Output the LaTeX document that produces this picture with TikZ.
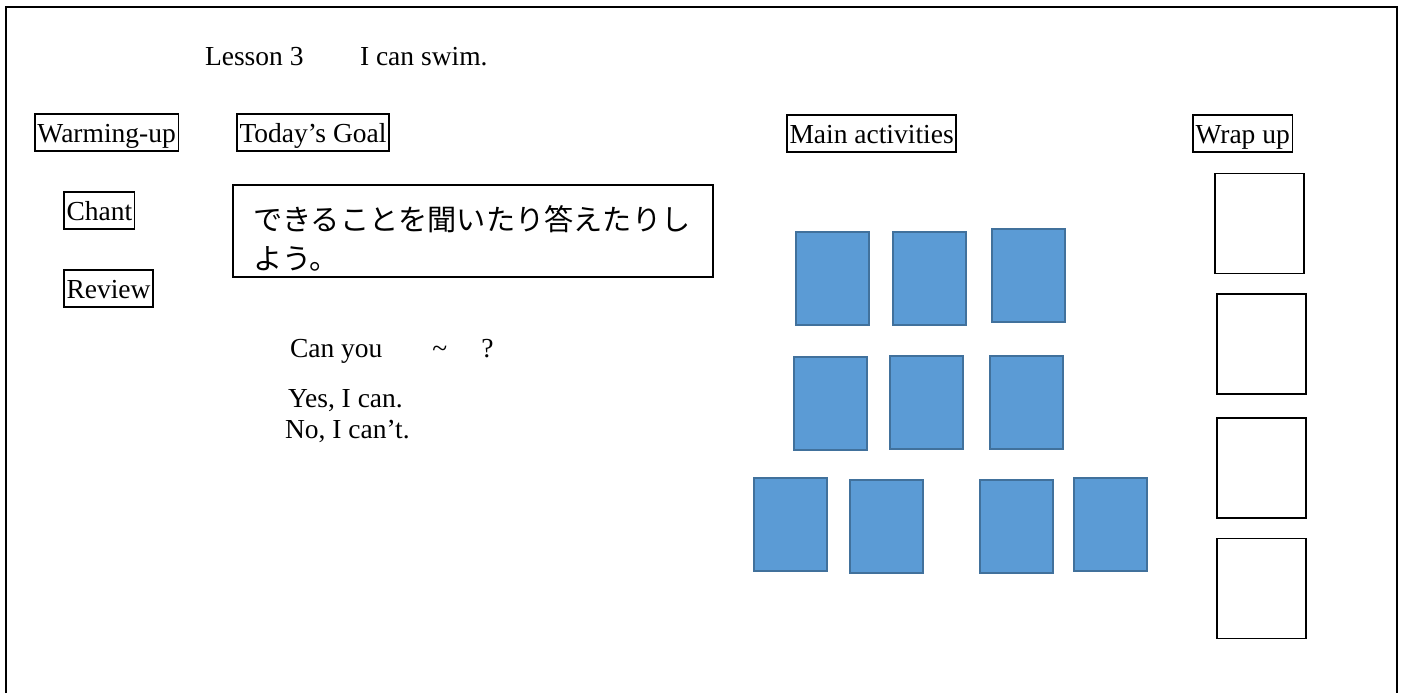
\documentclass[tikz,border=0pt]{standalone}
\usepackage{fontspec}
\setmainfont{Liberation Serif}
\newfontfamily\jpfont{Noto Sans CJK JP}
\definecolor{actblue}{HTML}{5B9BD5}
\definecolor{actline}{HTML}{41719C}

\begin{document}
\begin{tikzpicture}[x=0.5pt, y=-0.5pt, outer sep=0pt, font=\fontsize{13.75}{16}\selectfont,
  plain/.style={inner sep=0pt, anchor=base west},
  tagbox/.style={draw, line width=0.8pt, inner xsep=1.25pt, inner ysep=0pt,
    text height=14pt, text depth=4.5pt, anchor=north west},
  goalbox/.style={draw, line width=0.8pt, anchor=north west, minimum width=240pt,
    inner ysep=0pt, text height=22.5pt, text depth=23.5pt, text width=220pt,
    inner xsep=10pt, align=left, font=\jpfont\fontsize{14.6}{19.5}\selectfont},
  actbox/.style={draw=actline, fill=actblue, line width=1pt, inner sep=0pt,
    minimum width=36.5pt, minimum height=46.5pt},
  wrapbox/.style={draw, line width=0.7pt, inner sep=0pt,
    minimum width=44.5pt, minimum height=50pt}]

\useasboundingbox (0,0) rectangle (1405,693);
\draw [line width=1.2pt] (6,693) -- (6,7) -- (1397,7) -- (1397,693);

\node [plain] at (205,65) (LESSON) {Lesson 3};
\node [plain] at (360,65) (TITLE) {I can swim.};

\node [tagbox] at (35,114) (WARM_UP) {Warming-up};
\node [tagbox] at (237,114) (GOAL) {Today’s Goal};
\node [tagbox] at (787,115) (MAIN) {Main activities};
\node [tagbox] at (1193,115) (WRAP) {Wrap up};
\node [tagbox] at (64,192) (CHANT) {Chant};
\node [tagbox] at (64,270) (REVIEW) {Review};

\node [goalbox] at (233,185) (GOAL_TEXT) {できることを聞いたり答えたりし\\よう。};

\node [plain] at (290,357) (ASK) {Can you\hspace*{25pt}\textasciitilde\hspace*{17pt}?};
\node [plain] at (288,407) (YES) {Yes, I can.};
\node [plain] at (285,438) (NO) {No, I can’t.};

\node [actbox] at (832.5,278) (ACT_A1) {};
\node [actbox] at (929,278) (ACT_A2) {};
\node [actbox] at (1028.5,275.5) (ACT_A3) {};
\node [actbox] at (830.5,403.5) (ACT_B1) {};
\node [actbox] at (926.5,402) (ACT_B2) {};
\node [actbox] at (1026.5,402) (ACT_B3) {};
\node [actbox] at (790.5,524.5) (ACT_C1) {};
\node [actbox] at (886.5,526) (ACT_C2) {};
\node [actbox] at (1016.5,526) (ACT_C3) {};
\node [actbox] at (1110.5,524.5) (ACT_C4) {};

\node [wrapbox] at (1259.5,223.5) (WRAP_1) {};
\node [wrapbox] at (1261.5,344) (WRAP_2) {};
\node [wrapbox] at (1261.5,468) (WRAP_3) {};
\node [wrapbox] at (1261.5,588.5) (WRAP_4) {};
\end{tikzpicture}
\end{document}
